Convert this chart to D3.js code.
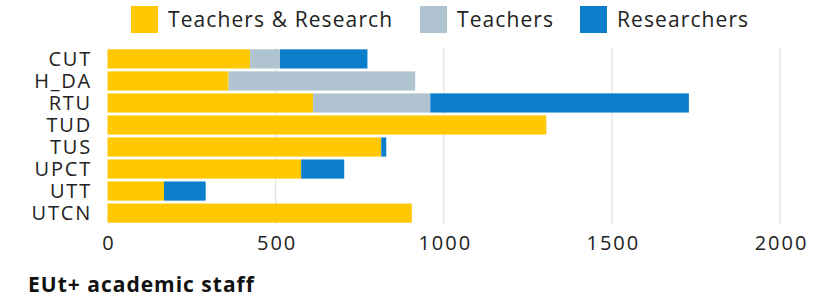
<!DOCTYPE html>
<html>
<head>
<meta charset="utf-8">
<script src="https://cdn.jsdelivr.net/npm/d3@7"></script>
<style>
  body { margin: 0; background: #fff; }
  svg { display: block; font-family: "Open Sans", "Noto Sans", sans-serif; }
</style>
</head>
<body>
<svg width="828" height="298"></svg>
<script>
// data
var universities = ["CUT", "H_DA", "RTU", "TUD", "TUS", "UPCT", "UTT", "UTCN"];
var seriesNames = ["Teachers & Research", "Teachers", "Researchers"];
var teachRes    = [424, 360, 611, 1305, 814, 576, 168, 905];
var teachers    = [89, 555, 349, 0, 0, 0, 0, 0];
var researchers = [260, 0, 769, 0, 15, 128, 124, 0];
var xTicks = [0, 500, 1000, 1500, 2000];
var colors = ["#ffc800", "#afc4d0", "#0a7ecb"];

var svg = d3.select("svg");

var rows = universities.map(function(u, i) {
  return { name: u, tr: teachRes[i], t: teachers[i], r: researchers[i] };
});

var stack = d3.stack().keys(["tr", "t", "r"])(rows);

var x = d3.scaleLinear()
  .domain([0, 2000])
  .range([107.5, 780]);

var y = d3.scaleBand()
  .domain(universities)
  .range([47.9, 224.1])
  .paddingInner(0.13)
  .paddingOuter(0.065);

//gridlines
svg.append("g")
  .selectAll("line")
  .data(xTicks.slice(1))
  .enter()
  .append("line")
  .attr("x1", function(d) { return x(d); })
  .attr("x2", function(d) { return x(d); })
  .attr("y1", 47)
  .attr("y2", 225)
  .style("stroke", "#dcdcdc")
  .style("stroke-width", 1);

//bars
svg.append("g")
  .selectAll("g")
  .data(stack)
  .enter()
  .append("g")
  .style("fill", function(d, i) { return colors[i]; })
  .selectAll("rect")
  .data(function(d) { return d; })
  .enter()
  .append("rect")
  .filter(function(d) { return d[1] > d[0]; })
  .attr("x", function(d) { return x(d[0]); })
  .attr("width", function(d) { return x(d[1]) - x(d[0]); })
  .attr("y", function(d) { return y(d.data.name); })
  .attr("height", y.bandwidth());

//y axis labels
var yAxis = svg.append("g")
  .attr("transform", "translate(102,0)")
  .call(d3.axisLeft(y).tickSize(0).tickPadding(10));
yAxis.select(".domain").remove();
yAxis.selectAll("text")
  .attr("dy", "0.36em")
  .style("font-family", "'Open Sans', sans-serif")
  .style("font-size", "20px")
  .style("letter-spacing", "1.8px")
  .style("fill", "#222");

//x axis labels
var xAxis = svg.append("g")
  .attr("transform", "translate(1,226)")
  .call(d3.axisBottom(x).tickValues(xTicks).tickSize(0).tickPadding(10).tickFormat(d3.format("d")));
xAxis.select(".domain").remove();
xAxis.selectAll("text")
  .style("font-family", "'Open Sans', sans-serif")
  .style("font-size", "20px")
  .style("letter-spacing", "2px")
  .style("fill", "#222");

//legend
var legendX = [131, 420, 580];
var legend = svg.append("g")
  .selectAll("g")
  .data(seriesNames)
  .enter()
  .append("g")
  .attr("transform", function(d, i) { return "translate(" + legendX[i] + ",6)"; });
legend.append("rect")
  .attr("width", 27)
  .attr("height", 27)
  .style("fill", function(d, i) { return colors[i]; });
legend.append("text")
  .attr("x", 37)
  .attr("y", 21)
  .style("font-size", "21px")
  .style("letter-spacing", "1.1px")
  .style("fill", "#222")
  .text(function(d) { return d; });

//title
svg.append("text")
  .attr("x", 28)
  .attr("y", 292)
  .style("font-size", "21px")
  .style("font-weight", "bold")
  .style("letter-spacing", "1px")
  .style("fill", "#111")
  .text("EUt+ academic staff");
</script>
</body>
</html>
